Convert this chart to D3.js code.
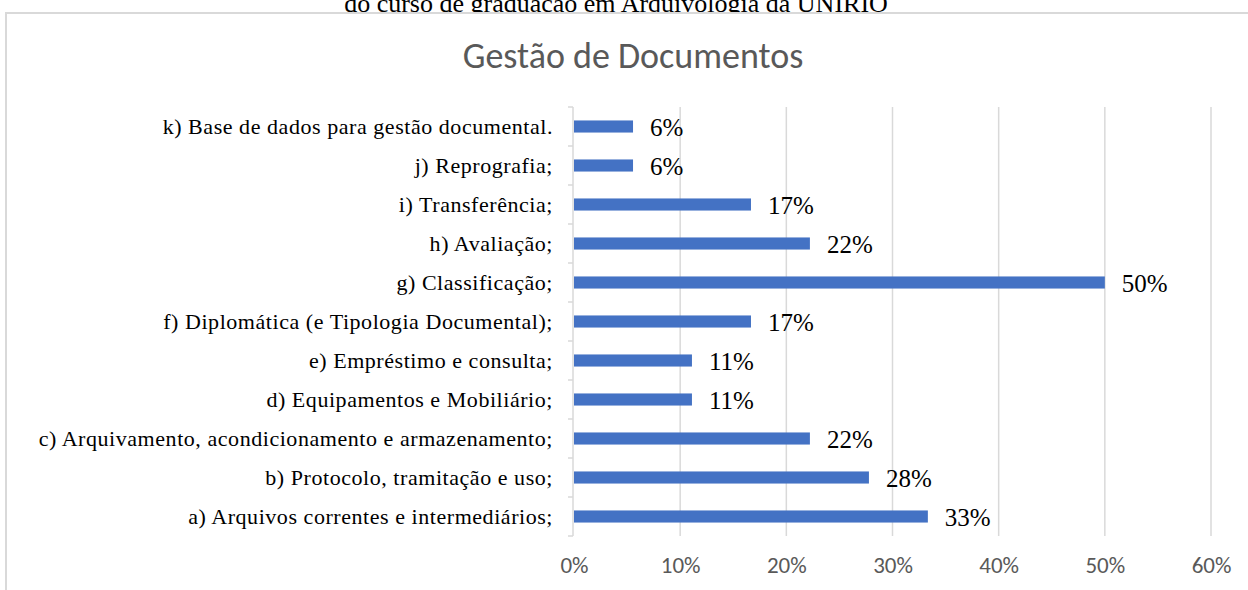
<!DOCTYPE html>
<html>
<head>
<meta charset="utf-8">
<script src="https://cdn.jsdelivr.net/npm/d3@7/dist/d3.min.js"></script>
<style>
  html, body { margin: 0; padding: 0; background: #fff; }
  svg { display: block; }
</style>
</head>
<body>
<div id="chart"></div>
<script>
// categories from top to bottom, as in the picture
var categories = [
  "k) Base de dados para gestão documental.",
  "j) Reprografia;",
  "i) Transferência;",
  "h) Avaliação;",
  "g) Classificação;",
  "f) Diplomática (e Tipologia Documental);",
  "e) Empréstimo e consulta;",
  "d) Equipamentos e Mobiliário;",
  "c) Arquivamento, acondicionamento e armazenamento;",
  "b) Protocolo, tramitação e uso;",
  "a) Arquivos correntes e intermediários;"
];
var values = [0.0556, 0.0556, 0.1667, 0.2222, 0.5, 0.1667, 0.1111, 0.1111, 0.2222, 0.2778, 0.3333];
var tickValues = [0, 0.1, 0.2, 0.3, 0.4, 0.5, 0.6];
var chartTitle = "Gestão de Documentos";
var caption = "do curso de graduação em Arquivologia da UNIRIO";

var width = 1248, height = 590;
var plot = { left: 574, right: 1211, top: 107, bottom: 536 };

var svg = d3.select("#chart").append("svg")
  .attr("width", width)
  .attr("height", height);

// caption of the document, mostly hidden under the chart box
svg.append("text")
  .attr("x", 616)
  .attr("y", 12)
  .attr("text-anchor", "middle")
  .attr("font-family", "'Liberation Serif', 'Times New Roman', serif")
  .attr("font-size", 26)
  .attr("fill", "#000")
  .text(caption);

// chart area
svg.append("rect")
  .attr("x", 6)
  .attr("y", 13)
  .attr("width", 1300)
  .attr("height", 700)
  .attr("fill", "#fff")
  .attr("stroke", "#d9d9d9")
  .attr("stroke-width", 2);

svg.append("text")
  .attr("x", 633)
  .attr("y", 68)
  .attr("text-anchor", "middle")
  .attr("font-family", "Carlito, 'Open Sans', 'Noto Sans', sans-serif")
  .attr("font-size", 36)
  .attr("fill", "#595959")
  .text(chartTitle);

var x = d3.scaleLinear()
  .domain([0, 0.6])
  .range([plot.left, plot.right]);

var pad = 0.69;
var y = d3.scaleBand()
  .domain(categories)
  .range([plot.top, plot.bottom])
  .paddingInner(pad)
  .paddingOuter(pad / 2);

// vertical gridlines
svg.append("g")
  .selectAll("line")
  .data(tickValues.slice(1))
  .enter()
  .append("line")
  .attr("x1", function (d) { return x(d); })
  .attr("x2", function (d) { return x(d); })
  .attr("y1", plot.top)
  .attr("y2", plot.bottom)
  .attr("stroke", "#d9d9d9")
  .attr("stroke-width", 1.5);

// category axis line and boundary ticks
var step = y.step();
var bounds = categories.map(function (c) { return y(c) - (step - y.bandwidth()) / 2; });
bounds.push(bounds[bounds.length - 1] + step);

svg.append("line")
  .attr("x1", plot.left - 1)
  .attr("x2", plot.left - 1)
  .attr("y1", plot.top)
  .attr("y2", plot.bottom)
  .attr("stroke", "#d9d9d9")
  .attr("stroke-width", 1.5);

svg.append("g")
  .selectAll("line")
  .data(bounds)
  .enter()
  .append("line")
  .attr("x1", plot.left - 6)
  .attr("x2", plot.left - 1)
  .attr("y1", function (d) { return d; })
  .attr("y2", function (d) { return d; })
  .attr("stroke", "#d9d9d9")
  .attr("stroke-width", 1.5);

// category labels
svg.append("g")
  .selectAll("text")
  .data(categories)
  .enter()
  .append("text")
  .attr("x", plot.left - 21)
  .attr("y", function (d) { return y(d) + y.bandwidth() / 2 + 7; })
  .attr("text-anchor", "end")
  .attr("font-family", "'Liberation Serif', 'Times New Roman', serif")
  .attr("font-size", 22)
  .attr("letter-spacing", 0.55)
  .attr("fill", "#000")
  .text(function (d) { return d; });

// bars
svg.append("g")
  .selectAll("rect")
  .data(values)
  .enter()
  .append("rect")
  .attr("x", x(0))
  .attr("y", function (d, i) { return y(categories[i]); })
  .attr("width", function (d) { return x(d) - x(0); })
  .attr("height", y.bandwidth())
  .attr("fill", "#4472c4");

// data labels
svg.append("g")
  .selectAll("text")
  .data(values)
  .enter()
  .append("text")
  .attr("x", function (d) { return x(d) + 17; })
  .attr("y", function (d, i) { return y(categories[i]) + y.bandwidth() / 2 + 9; })
  .attr("font-family", "'Liberation Serif', 'Times New Roman', serif")
  .attr("font-size", 25)
  .attr("fill", "#000")
  .text(function (d) { return d3.format(".0%")(d); });

// value axis labels
var xAxis = d3.axisBottom(x)
  .tickValues(tickValues)
  .tickFormat(d3.format(".0%"))
  .tickSize(0)
  .tickPadding(0);

var gx = svg.append("g")
  .attr("transform", "translate(0," + 557 + ")")
  .call(xAxis);
gx.select(".domain").remove();
gx.selectAll("text")
  .attr("font-family", "Carlito, 'Noto Sans', 'Open Sans', sans-serif")
  .attr("font-size", 23)
  .attr("fill", "#595959");
</script>
</body>
</html>
